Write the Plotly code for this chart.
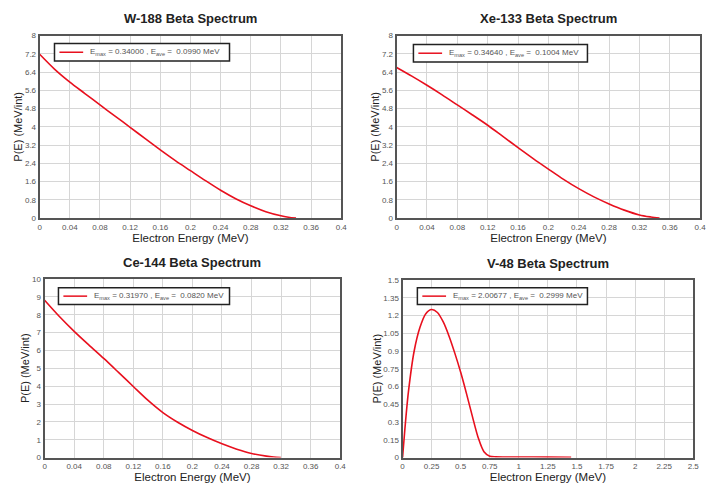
import plotly.graph_objects as go

# ---------------- data ----------------
titles = ["W-188 Beta Spectrum", "Xe-133 Beta Spectrum", "Ce-144 Beta Spectrum", "V-48 Beta Spectrum"]
legend_texts = [
    "E<sub>max</sub> = 0.34000 , E<sub>ave</sub> =  0.0990 MeV",
    "E<sub>max</sub> = 0.34640 , E<sub>ave</sub> =  0.1004 MeV",
    "E<sub>max</sub> = 0.31970 , E<sub>ave</sub> =  0.0820 MeV",
    "E<sub>max</sub> = 2.00677 , E<sub>ave</sub> =  0.2999 MeV",
]
x_title = "Electron Energy (MeV)"
y_title = "P(E) (MeV/int)"

w188_e = [0, 0.02, 0.04, 0.06, 0.08, 0.10, 0.12, 0.14, 0.16, 0.18, 0.20, 0.22, 0.24, 0.26, 0.28, 0.30, 0.32, 0.33, 0.34]
w188_p = [7.18, 6.52, 5.96, 5.46, 4.96, 4.47, 3.98, 3.48, 2.99, 2.52, 2.08, 1.64, 1.22, 0.85, 0.54, 0.28, 0.10, 0.04, 0.0]

xe133_e = [0, 0.02, 0.04, 0.06, 0.08, 0.10, 0.12, 0.14, 0.16, 0.18, 0.20, 0.22, 0.24, 0.26, 0.28, 0.30, 0.32, 0.335, 0.3464]
xe133_p = [6.60, 6.22, 5.82, 5.40, 4.96, 4.52, 4.07, 3.58, 3.09, 2.61, 2.15, 1.70, 1.29, 0.93, 0.62, 0.35, 0.14, 0.05, 0.0]

ce144_e = [0, 0.02, 0.04, 0.06, 0.08, 0.10, 0.12, 0.14, 0.16, 0.18, 0.20, 0.22, 0.24, 0.26, 0.28, 0.30, 0.31, 0.3197]
ce144_p = [8.81, 7.90, 7.07, 6.30, 5.55, 4.77, 3.98, 3.20, 2.52, 1.98, 1.52, 1.12, 0.77, 0.47, 0.23, 0.08, 0.03, 0.0]

v48_e = [0, 0.02, 0.05, 0.10, 0.15, 0.20, 0.25, 0.30, 0.35, 0.40, 0.45, 0.50, 0.55, 0.60, 0.65, 0.70, 0.75, 0.80, 1.00, 1.25, 1.45]
v48_p = [0, 0.24, 0.55, 0.90, 1.10, 1.215, 1.25, 1.225, 1.145, 1.025, 0.88, 0.72, 0.54, 0.35, 0.17, 0.05, 0.012, 0.006, 0.005, 0.004, 0.003]

x_ranges = [[0, 0.4], [0, 0.4], [0, 0.4], [0, 2.5]]
x_dticks = [0.04, 0.04, 0.04, 0.25]
y_ranges = [[0, 8], [0, 8], [0, 10], [0, 1.5]]
y_dticks = [0.8, 0.8, 1, 0.15]

series = [(w188_e, w188_p), (xe133_e, xe133_p), (ce144_e, ce144_p), (v48_e, v48_p)]

# ---------------- layout geometry (screen pixels; page body has 8px margin) ----------------
OFF = 8
W, H = 721 - OFF, 494 - OFF
boxes = [  # left, right, top, bottom in screen pixels
    (38, 343, 32, 218),
    (399, 706, 32, 218),
    (43, 342, 280, 462),
    (405, 699, 281, 462),
]
legend_boxes = [  # left, right, top, bottom in screen pixels
    (53, 230, 40, 58),
    (416, 592, 41, 59),
    (57, 230, 289, 306),
    (420, 592, 289, 306),
]

def px(x):
    return (x - OFF) / W

def py(y):
    return 1 - (y - OFF) / H

RED = "#e8101e"
fig = go.Figure()
layout = dict(
    width=W, height=H,
    margin=dict(l=0, r=0, t=0, b=0),
    paper_bgcolor="white", plot_bgcolor="white",
    font=dict(family="Liberation Sans, Arial, sans-serif", color="#222"),
    showlegend=False,
    annotations=[], shapes=[],
)

for i, ((xs, ys), box, lb) in enumerate(zip(series, boxes, legend_boxes)):
    l, r, t, b = box
    xd = [px(l), px(r)]
    yd = [py(b), py(t)]
    sfx = "" if i == 0 else str(i + 1)
    fig.add_trace(go.Scatter(
        x=xs, y=ys, mode="lines", name=legend_texts[i],
        line=dict(color=RED, width=1.6, shape="spline", smoothing=0.8),
        xaxis="x" + sfx, yaxis="y" + sfx,
    ))
    common = dict(
        showgrid=True, gridcolor="#d6d6d6", gridwidth=1, zeroline=False,
        showline=True, linecolor="#555", linewidth=2, mirror=True,
        ticks="", tickfont=dict(size=8, color="#555"), tick0=0,
    )
    layout["xaxis" + sfx] = dict(
        domain=xd, anchor="y" + sfx, range=x_ranges[i], dtick=x_dticks[i],
        title=dict(text=x_title, font=dict(size=11.5, color="#222"), standoff=0),
        **common,
    )
    layout["yaxis" + sfx] = dict(
        domain=yd, anchor="x" + sfx, range=y_ranges[i], dtick=y_dticks[i],
        title=dict(text=y_title, font=dict(size=11, color="#222"), standoff=0),
        **common,
    )
    # title
    layout["annotations"].append(dict(
        text="<b>" + titles[i] + "</b>", x=(xd[0] + xd[1]) / 2, y=py(t - 17),
        xref="paper", yref="paper", xanchor="center", yanchor="middle",
        showarrow=False, font=dict(size=13, color="#222"),
    ))
    # legend box
    ll, lr, lt, lbt = lb
    layout["shapes"].append(dict(
        type="rect", xref="paper", yref="paper",
        x0=px(ll), x1=px(lr), y0=py(lbt), y1=py(lt),
        fillcolor="white", line=dict(color="#222", width=1.5), layer="above",
    ))
    ym = py((lt + lbt) / 2)
    layout["shapes"].append(dict(
        type="line", xref="paper", yref="paper",
        x0=px(ll + 5), x1=px(ll + 29), y0=ym, y1=ym,
        line=dict(color=RED, width=1.5), layer="above",
    ))
    layout["annotations"].append(dict(
        text=legend_texts[i], x=px(ll + 34), y=ym,
        xref="paper", yref="paper", xanchor="left", yanchor="middle",
        showarrow=False, font=dict(size=8, color="#555"),
    ))

fig.update_layout(**layout)
fig.write_html("out.html")
